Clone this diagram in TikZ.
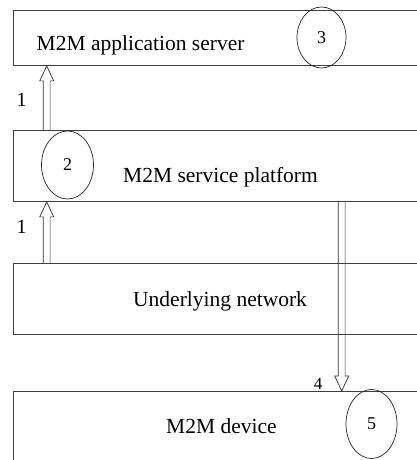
\documentclass[tikz,border=0pt]{standalone}
\usepackage{fontspec}
\setmainfont{Liberation Serif}
\usetikzlibrary{positioning,calc,shapes.geometric}

\begin{document}
\begin{tikzpicture}[x=1pt, y=1pt,
	layer/.style={rectangle, draw=black!75, line width=0.9pt, anchor=north west,
		minimum width=430pt, inner sep=0pt},
	num/.style={ellipse, draw=black!85, line width=0.7pt, inner sep=0pt,
		font=\fontsize{18}{18}\selectfont},
	lbl/.style={anchor=base west, inner sep=0pt, font=\fontsize{21.5}{25}\selectfont},
	tag/.style={inner sep=0pt, font=\fontsize{20}{20}\selectfont},
	hollow/.style={draw=black!80, line width=0.7pt, to path={
		($(\tikztostart)!3.4pt!90:(\tikztotarget)$)
		-- ($(\tikztotarget)!15pt!(\tikztostart)!3.4pt!-90:(\tikztostart)$)
		-- ($(\tikztotarget)!15pt!(\tikztostart)!7pt!-90:(\tikztostart)$)
		-- (\tikztotarget)
		-- ($(\tikztotarget)!15pt!(\tikztostart)!7pt!90:(\tikztostart)$)
		-- ($(\tikztotarget)!15pt!(\tikztostart)!3.4pt!90:(\tikztostart)$)
		-- ($(\tikztostart)!3.4pt!-90:(\tikztotarget)$)}}
	]
	\path[use as bounding box] (0,0) rectangle (417,460);
	\clip (0,0) rectangle (417,460);

	\node (app) [layer, minimum height=55pt] at (13,450) {};
	\node (plat) [layer, minimum height=71pt] at (13,330) {};
	\node (net) [layer, minimum height=71pt] at (13,197) {};
	\node (dev) [layer, minimum height=80pt] at (13,69) {};

	\node (apptxt) [lbl] at (36.5,409.5) {M2M application server};
	\node (plattxt) [lbl] at (123,277.3) {M2M service platform};
	\node (nettxt) [lbl] at (133,153.3) {Underlying network};
	\node (devtxt) [lbl] at (166,26) {M2M device};

	\node (c3) [num, minimum width=49pt, minimum height=61pt] at (321.5,422.5) {3};
	\node (c2) [num, minimum width=52pt, minimum height=68pt] at (67.5,295) {2};
	\node (c5) [num, minimum width=51pt, minimum height=69pt] at (371.5,36) {5};

	\coordinate (lx) at (46.7,0);
	\coordinate (rx) at (341.7,0);
	\draw[hollow] (plat.north -| lx) to (app.south -| lx);
	\draw[hollow] (net.north -| lx) to (plat.south -| lx);
	\draw[hollow] (plat.south -| rx) to (dev.north -| rx);

	\node (one1) [tag] at (21.7,360) {1};
	\node (one2) [tag] at (21.7,233) {1};
	\node (four) [tag, font=\fontsize{17}{17}\selectfont] at (318,76) {4};
\end{tikzpicture}
\end{document}
